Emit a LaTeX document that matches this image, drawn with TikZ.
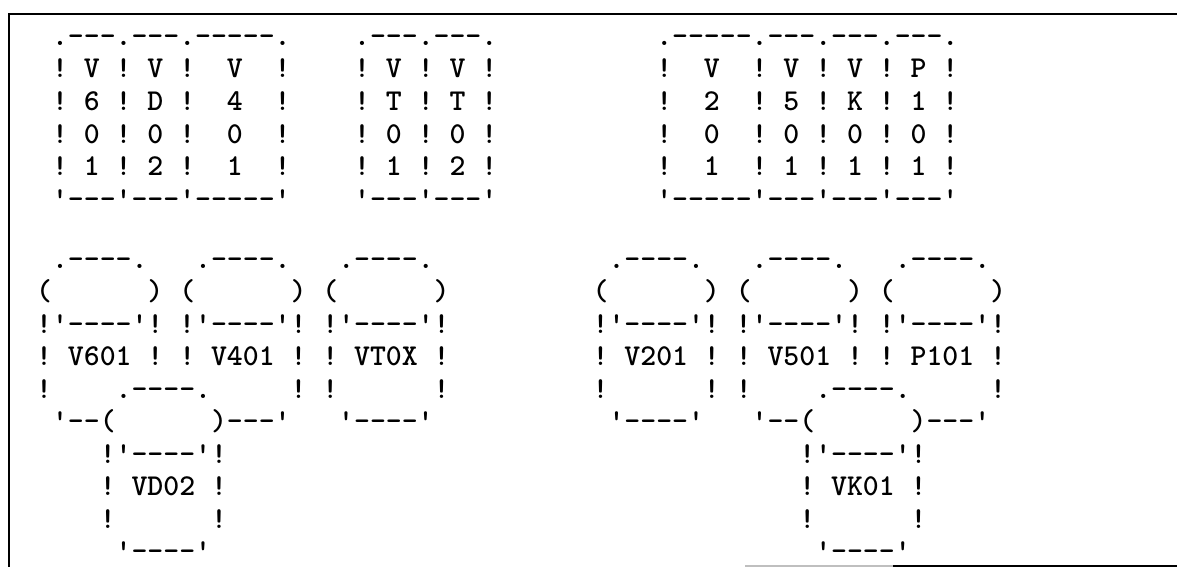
\documentclass[tikz,border=0pt]{standalone}
\usetikzlibrary{positioning}
\newcommand\qt{\textquotesingle}
\newcommand\dd{-\kern0pt}
\begin{document}
\begin{tikzpicture}[x=1pt,y=-1pt,
  asc/.style={anchor=base west,inner sep=0pt,outer sep=0pt,
    font=\ttfamily\bfseries\fontsize{30.2857}{32}\selectfont},
  frame/.style={line width=2.6pt,black}]
\useasboundingbox (0,0) rectangle (1177,567);
\newcommand\asc[4]{\node[asc] (#1) at ({52.05+15.9*(#2)},{#3}) {#4};}
% frame
\coordinate (fbl) at (9,567);
\coordinate (ftl) at (9,14);
\coordinate (ftr) at (1177,14);
\coordinate (fb1) at (745,566);
\coordinate (fb2) at (893,566);
\coordinate (fb3) at (1177,566);
\draw[frame] (fbl) -- (ftl) -- (ftr);
\draw[line width=1.5pt,black!25] (fb1) -- (fb2);
\draw[line width=2.2pt] (fb2) -- (fb3);
% ---------- top section ----------
\asc{ta1}{0}{45.5}{.\dd\dd\dd.\dd\dd\dd.\dd\dd\dd\dd\dd.}
\asc{tb1}{19}{45.5}{.\dd\dd\dd.\dd\dd\dd.}
\asc{tc1}{38}{45.5}{.\dd\dd\dd\dd\dd.\dd\dd\dd.\dd\dd\dd.\dd\dd\dd.}
\asc{ta2}{0}{78}{!~V~!~V~!~~V~~!}
\asc{tb2}{19}{78}{!~V~!~V~!}
\asc{tc2}{38}{78}{!~~V~~!~V~!~V~!~P~!}
\asc{ta3}{0}{110.5}{!~6~!~D~!~~4~~!}
\asc{tb3}{19}{110.5}{!~T~!~T~!}
\asc{tc3}{38}{110.5}{!~~2~~!~5~!~K~!~1~!}
\asc{ta4}{0}{143}{!~0~!~0~!~~0~~!}
\asc{tb4}{19}{143}{!~0~!~0~!}
\asc{tc4}{38}{143}{!~~0~~!~0~!~0~!~0~!}
\asc{ta5}{0}{175.5}{!~1~!~2~!~~1~~!}
\asc{tb5}{19}{175.5}{!~1~!~2~!}
\asc{tc5}{38}{175.5}{!~~1~~!~1~!~1~!~1~!}
\asc{ta6}{0}{208}{\qt\dd\dd\dd\qt\dd\dd\dd\qt\dd\dd\dd\dd\dd\qt}
\asc{tb6}{19}{208}{\qt\dd\dd\dd\qt\dd\dd\dd\qt}
\asc{tc6}{38}{208}{\qt\dd\dd\dd\dd\dd\qt\dd\dd\dd\qt\dd\dd\dd\qt\dd\dd\dd\qt}
% ---------- bottom section ----------
\asc{la1}{0}{268}{.\dd\dd\dd\dd.~~~.\dd\dd\dd\dd.~~~.\dd\dd\dd\dd.}
\asc{ra1}{35}{268}{.\dd\dd\dd\dd.~~~.\dd\dd\dd\dd.~~~.\dd\dd\dd\dd.}
\asc{la2}{-1}{300.5}{(~~~~~~)~(~~~~~~)~(~~~~~~)}
\asc{ra2}{34}{300.5}{(~~~~~~)~(~~~~~~)~(~~~~~~)}
\asc{la3}{-1}{333}{!\qt\dd\dd\dd\dd\qt!~!\qt\dd\dd\dd\dd\qt!~!\qt\dd\dd\dd\dd\qt!}
\asc{ra3}{34}{333}{!\qt\dd\dd\dd\dd\qt!~!\qt\dd\dd\dd\dd\qt!~!\qt\dd\dd\dd\dd\qt!}
\asc{la4}{-1}{365.5}{!~V601~!~!~V401~!~!~VT0X~!}
\asc{ra4}{34}{365.5}{!~V201~!~!~V501~!~!~P101~!}
\asc{la5}{-1}{398}{!~~~~.\dd\dd\dd\dd.~~~~~!~!~~~~~~!}
\asc{ra5}{34}{398}{!~~~~~~!~!~~~~.\dd\dd\dd\dd.~~~~~!}
\asc{la6}{0}{430.5}{\qt\dd\dd(~~~~~~)\dd\dd\dd\qt~~~\qt\dd\dd\dd\dd\qt}
\asc{ra6}{35}{430.5}{\qt\dd\dd\dd\dd\qt~~~\qt\dd\dd(~~~~~~)\dd\dd\dd\qt}
\asc{la7}{3}{463}{!\qt\dd\dd\dd\dd\qt!}
\asc{ra7}{47}{463}{!\qt\dd\dd\dd\dd\qt!}
\asc{la8}{3}{495.5}{!~VD02~!}
\asc{ra8}{47}{495.5}{!~VK01~!}
\asc{la9}{3}{528}{!~~~~~~!}
\asc{ra9}{47}{528}{!~~~~~~!}
\asc{la10}{4}{560.5}{\qt\dd\dd\dd\dd\qt}
\asc{ra10}{48}{560.5}{\qt\dd\dd\dd\dd\qt}
\end{tikzpicture}
\end{document}
